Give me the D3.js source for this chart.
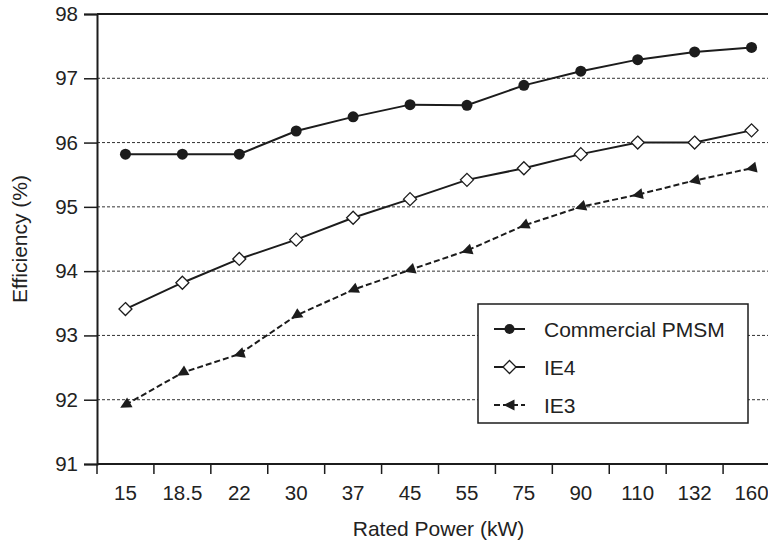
<!DOCTYPE html>
<html>
<head>
<meta charset="utf-8">
<script src="https://cdn.jsdelivr.net/npm/d3@7/dist/d3.min.js"></script>
<style>
html,body{margin:0;padding:0;background:#fff;}
svg{display:block;font-family:"Liberation Sans",Arial,Helvetica,sans-serif;}
</style>
</head>
<body>
<svg id="chart" width="768" height="545"></svg>
<script>
const categories = ["15","18.5","22","30","37","45","55","75","90","110","132","160"];
const pmsm = [95.82,95.82,95.82,96.18,96.40,96.59,96.58,96.89,97.11,97.29,97.41,97.48];
const ie4  = [93.41,93.82,94.19,94.49,94.83,95.12,95.42,95.60,95.82,96.00,96.00,96.19];
const ie3  = [91.92,92.42,92.71,93.31,93.71,94.02,94.32,94.71,95.00,95.19,95.41,95.60];
const yTicks = [91,92,93,94,95,96,97,98];
const gridValues = [92,93,94,95,96,97];
const seriesNames = ["Commercial PMSM","IE4","IE3"];

(function () {
const svg = d3.select("#chart");
const mL = 97, mR = 780, mT = 14, mB = 464;
const ink = "#1c1c1c";

const x = d3.scaleBand().domain(categories).range([mL, mR]).paddingInner(0).paddingOuter(0);
const y = d3.scaleLinear().domain([91, 98]).range([mB, mT]);
const cx = c => x(c) + x.bandwidth() / 2;

// gridlines
svg.append("g").selectAll("line").data(gridValues).join("line")
  .attr("x1", mL).attr("x2", mR)
  .attr("y1", d => y(d)).attr("y2", d => y(d))
  .attr("stroke", "#333").attr("stroke-width", 1).attr("stroke-dasharray", "3,2");

// top border
svg.append("line").attr("x1", mL).attr("x2", mR)
  .attr("y1", y(98)).attr("y2", y(98)).attr("stroke", ink).attr("stroke-width", 2);

// y axis
const yAxis = svg.append("g").attr("transform", `translate(${mL},0)`)
  .call(d3.axisLeft(y).tickValues(yTicks).tickSize(13).tickPadding(6).tickFormat(d3.format("d")));
yAxis.select(".domain").attr("stroke", ink).attr("stroke-width", 2);
yAxis.selectAll(".tick line").attr("stroke", ink).attr("stroke-width", 1.5);
yAxis.selectAll("text").attr("font-size", 20.5).attr("fill", "#222")
  .attr("font-family", "Liberation Sans, Arial, sans-serif");

// x axis (labels at band centres, ticks at band boundaries)
const xAxis = svg.append("g").attr("transform", `translate(0,${mB})`)
  .call(d3.axisBottom(x).tickSize(0).tickPadding(0));
xAxis.select(".domain").remove();
xAxis.selectAll("text").attr("font-size", 20.5).attr("fill", "#222").attr("dy", 0).attr("y", 36)
  .attr("font-family", "Liberation Sans, Arial, sans-serif");
svg.append("line").attr("x1", mL).attr("x2", mR).attr("y1", mB).attr("y2", mB)
  .attr("stroke", ink).attr("stroke-width", 2);
svg.append("g").selectAll("line").data(categories).join("line")
  .attr("x1", d => x(d)).attr("x2", d => x(d))
  .attr("y1", mB).attr("y2", mB + 10)
  .attr("stroke", ink).attr("stroke-width", 1.5);

// axis titles
svg.append("text").attr("x", (mL + mR) / 2).attr("y", 536).attr("text-anchor", "middle")
  .attr("font-size", 21).attr("fill", "#222").text("Rated Power (kW)");
svg.append("text").attr("transform", `translate(27,${(mT + mB) / 2}) rotate(-90)`)
  .attr("text-anchor", "middle").attr("font-size", 21).attr("fill", "#222").text("Efficiency (%)");

// series
const line = d3.line().x((d, i) => cx(categories[i])).y(d => y(d));
svg.append("path").datum(pmsm).attr("d", line).attr("fill", "none").attr("stroke", ink).attr("stroke-width", 2);
svg.append("path").datum(ie4).attr("d", line).attr("fill", "none").attr("stroke", ink).attr("stroke-width", 2);
svg.append("path").datum(ie3).attr("d", line).attr("fill", "none").attr("stroke", ink).attr("stroke-width", 2)
  .attr("stroke-dasharray", "6,3");

svg.append("g").selectAll("circle").data(pmsm).join("circle")
  .attr("cx", (d, i) => cx(categories[i])).attr("cy", d => y(d)).attr("r", 5.5).attr("fill", ink);

const diamondPath = "M0,-6.5L6.5,0L0,6.5L-6.5,0Z";
svg.append("g").selectAll("path").data(ie4).join("path")
  .attr("d", diamondPath)
  .attr("transform", (d, i) => `translate(${cx(categories[i])},${y(d)})`)
  .attr("fill", "#fff").attr("stroke", ink).attr("stroke-width", 1.3);

// triangles pointing backward along the line
function angleAt(i) {
  const j = i === 0 ? 1 : i;
  const x0 = cx(categories[j - 1]), y0 = y(ie3[j - 1]);
  const x1 = cx(categories[j]), y1 = y(ie3[j]);
  return Math.atan2(y1 - y0, x1 - x0) * 180 / Math.PI;
}
const triPath = "M-6,0L5,-5.5L5,5.5Z";
svg.append("g").selectAll("path").data(ie3).join("path")
  .attr("d", triPath)
  .attr("transform", (d, i) => `translate(${cx(categories[i])},${y(d)}) rotate(${angleAt(i)})`)
  .attr("fill", ink);

// legend
const lg = svg.append("g");
lg.append("rect").attr("x", 478).attr("y", 304).attr("width", 270).attr("height", 119)
  .attr("fill", "#fff").attr("stroke", ink).attr("stroke-width", 1.5);
const rowsY = [329, 367, 405];
seriesNames.forEach((name, k) => {
  const yy = rowsY[k];
  lg.append("line").attr("x1", 494).attr("x2", 525).attr("y1", yy).attr("y2", yy)
    .attr("stroke", ink).attr("stroke-width", 2).attr("stroke-dasharray", k === 2 ? "6,3" : null);
  if (k === 0) lg.append("circle").attr("cx", 509.5).attr("cy", yy).attr("r", 5).attr("fill", ink);
  if (k === 1) lg.append("path").attr("d", diamondPath)
    .attr("transform", `translate(509.5,${yy})`)
    .attr("fill", "#fff").attr("stroke", ink).attr("stroke-width", 1.3);
  if (k === 2) lg.append("path").attr("d", triPath)
    .attr("transform", `translate(509.5,${yy})`).attr("fill", ink);
  lg.append("text").attr("x", 544).attr("y", yy + 7.5).attr("font-size", 21).attr("fill", "#222").text(name);
});
})();
</script>
</body>
</html>
